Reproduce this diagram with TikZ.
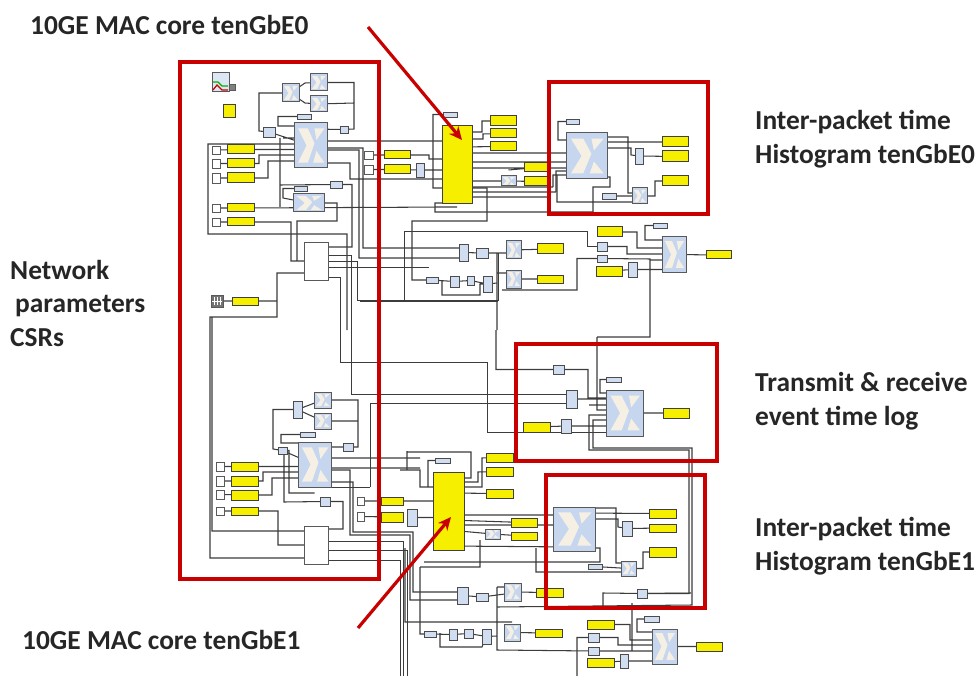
\documentclass[tikz,border=0pt]{standalone}
\usepackage{fontspec}
\setmainfont{Carlito}
\usetikzlibrary{arrows.meta}
\pgfdeclarelayer{wires}
\pgfsetlayers{wires,main}
\definecolor{frame}{HTML}{C80000}
\definecolor{block}{HTML}{C6D6EE}
\definecolor{logo}{HTML}{F6F0E4}
\definecolor{lamp}{HTML}{F6F000}
\definecolor{cable}{HTML}{3C3C3C}
\tikzset{
  cablew/.style={draw=cable,line width=1.05pt},
  cablet/.style={draw=cable,line width=0.7pt},
  boxed/.style={inner sep=0pt,outer sep=0pt,rectangle},
  ybox/.style={boxed,draw=black!75,fill=lamp,line width=1pt},
  bbox/.style={boxed,draw=black!65,fill=block,line width=1pt},
  wbox/.style={boxed,draw=black!65,fill=white,line width=0.9pt},
  sbox/.style={boxed,draw=black!70,fill=block!80,line width=0.9pt},
  redframe/.style={draw=frame,line width=4.8pt},
  redarrow/.style={draw=frame,line width=3.2pt,-{Stealth[length=13pt,width=12pt]}},
  caption/.style={font=\fontsize{27.4}{33.5}\selectfont\bfseries,text=black!85,anchor=west,align=left,inner sep=0pt}
}
\begin{document}
\begin{tikzpicture}[x=1pt,y=-1pt]
\useasboundingbox (0,0) rectangle (979,676);
% yellow blocks
\foreach \n/\xa/\ya/\xb/\yb in {ya0/227/145/254/154,yb0/227/159/254/168,yc0/227/173/254/183,yd0/227/204/254/212,ye0/227/218/254/226,
  ya1/231/462/258/471,yb1/231/476/258/486,yc1/231/490/258/500,ye1/231/507/258/515,
  yf0/232/297/258/305,ym0/442/126/472/204,ym1/433/472/464/550,
  yg0/384/151/410/159,yh0/384/165/410/174,yg1/381/497/403/505,yh1/381/512/403/522,
  yo0/490/116/516/126,yp0/490/129/516/138,yq0/490/142/516/151,yo1/486/453/513/462,yp1/486/467/513/476,yq1/486/489/513/498,
  yr0/524/163/550/172,ys0/524/177/550/186,yr1/511/518/537/527,ys1/511/532/537/540,
  yt0/662/137/688/147,yu0/662/151/688/162,yv0/662/176/688/186,yt1/649/509/676/518,yu1/649/524/676/532,yv1/649/547/676/557,
  yw0/537/244/563/254,yx0/537/275/563/283,yw1/536/588/563/597,yx1/535/629/562/637,
  yy0/597/227/622/237,yz0/596/266/622/276,yy1/587/620/614/629,yz1/587/658/614/667,
  yl0/706/251/731/259,yl1/696/642/722/651,yev/663/408/689/418,yin/523/422/550/432,ysm/223/105/235/118}
  {\node[ybox,minimum width={(\xb-\xa)*1pt},minimum height={(\yb-\ya)*1pt}] (\n) at ({(\xa+\xb)/2},{(\ya+\yb)/2}) {};}
% white blocks
\foreach \n/\xa/\ya/\xb/\yb in {wa0/212/146/220/154,wb0/212/159/220/168,wc0/212/173/220/183,wd0/212/204/220/212,we0/212/218/220/226,
  wa1/216/462/224/471,wb1/216/476/224/486,wc1/216/490/224/499,we1/216/507/224/515,
  wg0/364/151/373/159,wh0/364/165/373/174,wg1/357/497/364/505,wh1/357/512/364/521,
  bus0/304/242/328/280,bus1/304/526/328/564}
  {\node[wbox,minimum width={(\xb-\xa)*1pt},minimum height={(\yb-\ya)*1pt}] (\n) at ({(\xa+\xb)/2},{(\ya+\yb)/2}) {};}
% small blue blocks and strips
\foreach \n/\xa/\ya/\xb/\yb in {inv0/263/127/275/137,reg0/340/126/348/133,dly0/330/181/342/188,mux0/416/163/424/177,sl0/635/148/643/164,
  m0/459/244/468/261,r0/476/248/488/258,c0/426/277/438/283,d0/450/276/459/287,e0/467/276/474/285,f0/483/276/492/292,
  g0/597/242/607/251,h0/597/255/607/262,k0/628/262/637/277,
  n1/293/401/302/418,inv1/278/447/287/454,reg1/343/443/353/451,dly1/320/497/330/506,mux1/407/509/417/526,sl1/622/521/632/536,
  m1/457/587/468/604,r1/476/593/488/601,c1/424/631/436/637,d1/449/629/457/640,e1/464/629/473/638,f1/482/629/491/644,
  g1/588/633/599/642,h1/588/647/599/655,k1/620/654/628/668,
  pa/553/365/564/374,pb/566/390/577/408,pc/561/419/571/433,pd/637/589/647/598,
  con0/297/114/311/119,con1/294/186/307/191,con2/300/432/315/437,con3/443/112/457/117,con4/566/119/579/124,
  con5/602/193/616/199,con6/653/223/667/228,con7/606/377/621/382,con8/435/458/450/463,con9/588/564/602/569,con10/644/616/659/622}
  {\node[sbox,minimum width={(\xb-\xa)*1pt},minimum height={(\yb-\ya)*1pt}] (\n) at ({(\xa+\xb)/2},{(\ya+\yb)/2}) {};}
% blue blocks with the logo
\foreach \n/\xa/\ya/\xb/\yb in {xa0/282/84/299/102,xb0/310/74/327/91,xc0/310/96/327/112,cnt0/294/123/327/168,ram0/293/194/324/212,
  xa1/314/392/331/408,xb1/314/413/331/429,cnt1/298/442/331/487,hist0/566/133/607/179,addr0/632/188/647/204,
  tx0/506/241/521/259,rx0/506/270/521/288,log0/662/237/686/272,mem0/501/176/516/186,hist1/553/507/595/551,
  addr1/621/561/636/576,tx1/504/583/521/601,rx1/504/624/520/641,log1/652/629/677/664,mem1/485/529/500/539,evt/606/390/643/436}
  {\node[bbox,minimum width={(\xb-\xa)*1pt},minimum height={(\yb-\ya)*1pt}] (\n) at ({(\xa+\xb)/2},{(\ya+\yb)/2}) {};
   \pgfmathsetmacro\bw{\xb-\xa}\pgfmathsetmacro\bh{\yb-\ya}
   \begin{scope}[shift={(\xa,\ya)},x=\bw pt,y=-\bh pt]
   \fill[logo] (0.12,0.12) -- (0.42,0.12) -- (0.62,0.45) -- (0.42,0.88) -- (0.12,0.88) -- (0.38,0.5) -- cycle
     (0.62,0.12) -- (0.92,0.12) -- (0.68,0.38) -- cycle (0.68,0.62) -- (0.92,0.88) -- (0.58,0.88) -- cycle;
   \end{scope}}
% scope and clock icons
\node[bbox,fill=block!60,minimum width=17pt,minimum height=19pt] (scp) at (220.5,82.5) {};
\draw[green!70!black,line width=1.2pt] (213,82) -- (218,82) -- (222,86) -- (228,86);
\draw[red!80!black,line width=1.2pt] (213,90) -- (217,85) -- (222,90) -- (228,90);
\node[wbox,fill=black!50,minimum size=6pt] (scq) at (232,87) {};
\node[wbox,fill=black!55,minimum size=12pt] (clk) at (217,301) {};
\draw[white,line width=0.9pt] (214,297) -- (214,305) (217,297) -- (217,305) (220,297) -- (220,305) (212,301) -- (222,301);
\begin{pgfonlayer}{wires}
% top left group
\draw[cablew] (xa0) -| (259,131) -- (inv0) (xa0) -- (305,83) -- (xb0) (xa0) -- (305,103) -- (xc0)
  (xb0) -| (354,129) -- (reg0) (xc0) -- (354,103) (con0) -| (278,126) -- (cnt0 |- 0,126)
  (inv0) -- (cnt0) (cnt0 |- 0,129) -- (reg0) (283,138) -- (cnt0 |- 0,138) (280,138) -- (280,207);
\draw[cablew] (cnt0 |- 0,144) -- (208,144) -- (208,234) -- (347,234) -- (347,330)
  (ya0) -- (cnt0 |- ya0) (yb0) -- (259,163.5) -- (259,155) -- (cnt0 |- 0,155)
  (yc0) -| (268,161) -- (cnt0 |- 0,161) (wa0) -- (ya0) (wb0) -- (yb0) (wc0) -- (yc0) (wd0) -- (yd0) (we0) -- (ye0);
\draw[cablew] (cnt0 |- 0,141) -- (ym0 |- 0,141) (cnt0 |- 0,148) -- (363,148) |- (390,248) -- (m0 |- 0,248)
  (cnt0 |- 0,150) -- (359,150) |- (m0 |- 0,258) (cnt0 |- 0,163) -| (350,179) -- (ym0 |- 0,179)
  (yd0) -- (ym0 |- 0,207) (ym0 |- 0,207) -- (435,207);
\draw[cablew] (ram0) -| (337,221) -- (297,221) |- (bus0) (con1) -| (283,198) -- (ram0)
  (280,185) -- (dly0) (dly0) -| (352,247) -- (bus0 |- 0,247) (ye0) -| (291,261) -- (bus0)
  (bus0 |- 0,273) -| (277,317) -- (210,317) -- (210,558) -- (bus1 |- 0,558) (yf0) -- (277,301) (clk) -- (yf0)
  (212,317) -- (212,531) -- (bus1 |- 0,531);
\draw[cablet] (bus0 |- 0,261) -| (357,300) -- (498,300) -- (498,253) (bus0 |- 0,267) -- (429,267)
  (bus0 |- 0,277) -| (340,362) -- (487,362) -- (487,432) -- (evt |- 0,432)
  (bus0 |- 0,255) -| (351,394) -- (pb |- 0,394) (370,487) -- (370,403) -- (pb |- 0,403) (cnt1 |- 0,487) -- (370,487);
% second group on the left
\draw[cablew] (n1) -| (273,449) -- (inv1) (n1) -- (xa1) (n1) -- (xb1)
  (xa1) -| (358,447) -- (reg1) (xb1) -- (358,421) (con2) -| (281,443) -- (cnt1 |- 0,443)
  (inv1) -- (cnt1) (reg1) -- (cnt1 |- reg1) (cnt1 |- 0,458) -- (420,458) (cnt1 |- 0,468) -- (420,468);
\draw[cablew] (ya1) -- (cnt1 |- ya1) (yb1) -| (263,472) -- (cnt1 |- 0,472) (yc1) -| (272,478) -- (cnt1 |- 0,478)
  (wa1) -- (ya1) (wb1) -- (yb1) (wc1) -- (yc1) (we1) -- (ye1) (ye1) -| (278,545) -- (bus1)
  (inv1) -| (284,502) -- (dly1) (dly1) -| (343,529) -- (bus1 |- 0,529) (inv1) -| (289,493) -- (cnt1 |- 0,493)
  (cnt1 |- 0,470) -| (350,535) -- (410,535) -- (410,600) -- (m1 |- 0,600)
  (cnt1 |- 0,482) -| (353,532) -- (413,532) -- (413,592) -- (m1 |- 0,592)
  (wg1) -- (yg1) (yg1) -- (ym1 |- yg1) (wh1) -- (yh1) (mux1) -- (ym1 |- mux1);
\draw[cablet] (bus1 |- 0,541) -| (403,676) (bus1 |- 0,550) -| (407,676) (bus1 |- 0,560) -| (400,676);
% first mac core
\draw[cablew] (yg0) -| (429,159) -- (ym0 |- 0,159) (wg0) -- (yg0) (wh0) -- (yh0) (yh0) -- (mux0) (mux0) -- (ym0 |- mux0)
  (con3) -| (433,188) -- (ym0 |- 0,188) (ym0 |- 0,203) -| (435,212) -- (593,212) (ym0 |- 0,132) -| (482,121) -- (yo0)
  (ym0 |- 0,139) -| (483,134) -- (yp0) (ym0 |- 0,147) -- (yq0);
\draw[cablew] (ym0 |- 0,153) -- (hist0 |- 0,153) (ym0 |- 0,162) -- (hist0 |- 0,162) (ym0 |- 0,168) -- (hist0 |- 0,168)
  (ym0 |- 0,187) -- (553,187) (ym0 |- 0,192) -- (556,192) (ym0 |- 0,197) -- (550,197)
  (ym0 |- 0,181) -- (mem0 |- 0,181) (mem0) -- (ys0) (mem0 |- 0,170) -- (yr0) (553,187) |- (hist0 |- 0,175)
  (556,192) |- (hist0 |- 0,171);
\draw[cablew] (con4) -| (558,140) -- (hist0 |- 0,140) (hist0 |- 0,137) -| (628,193) -- (addr0 |- 0,193)
  (hist0 |- 0,142) -- (yt0) (hist0 |- 0,148) -| (631,155) -- (sl0) (sl0) -- (yu0) (addr0) -| (655,181) -- (yv0)
  (con5) -- (addr0) (557,175) |- (addr0 |- 0,202) (hist0 |- 0,177) -| (610,187) -- (593,187) -- (593,212);
% counters under the first core
\draw[cablew] (ym0 |- 0,188) -- (487,188) -- (487,221) -- (412,221) -- (412,280) -- (c0) (c0) -- (d0) (d0) -- (e0) (e0) -- (f0)
  (442,280) -- (442,295) -- (480,295) |- (f0) (f0) -- (497,283) (m0) -- (r0) (r0) -- (tx0 |- r0)
  (497,253) -- (497,330) (497,273) -- (rx0 |- 0,273) (tx0) -- (yw0) (rx0) -- (yx0);
\draw[cablet] (404,231) -- (587,231) |- (g0) (404,231) -- (404,300) (360,301) -- (498,301);
\draw[cablew] (502,290) -- (577,290) |- (h0) (h0) -- (650,259) -- (650,330) (650,260) -- (log0 |- 0,260)
  (yy0) -| (637,248) -- (log0 |- 0,248) (g0) -| (627,254) -- (log0 |- 0,254) (yz0) -- (k0) (k0) -- (log0 |- k0)
  (con6) -| (645,240) -- (log0 |- 0,240) (log0) -- (yl0);
% event time log
\draw[cablew] (496,330) |- (pa) (pa) -| (588,398) -- (evt |- 0,398) (pb) -- (evt |- pb) (589,405) -- (evt |- 0,405)
  (597,337) -- (597,410) -- (evt |- 0,410) (597,337) -- (650,337) -- (650,330) (con7) -| (600,393) -- (evt |- 0,393)
  (pc) -- (evt |- pc) (evt |- 0,415) -| (589,450) -- (689,450) |- (pd)
  (evt |- 0,420) -| (593,448) -- (692,448) -- (692,605) -- (497,607) (evt |- yev) -- (yev) (pd) -- (603,593) -- (603,607)
  (yin) -- (pc);
% second mac core
\draw[cablew] (407,451) -- (407,470) (407,452) -- (471,452) |- (ym1 |- 0,478) (con8) -| (428,487) -- (ym1 |- 0,487)
  (400,470) -- (420,470) |- (ym1 |- 0,487) (ym1 |- 0,487) -| (482,458) -- (yo1) (ym1 |- 0,482) -| (478,472) -- (yp1) (ym1 |- 0,493) -- (yq1)
  (ym1 |- 0,515) -- (hist1 |- 0,515) (ym1 |- 0,520) -- (yr1) (ym1 |- 0,525) -- (hist1 |- 0,525) (ym1 |- 0,530) -- (mem1)
  (mem1) -- (ys1) (ym1 |- 0,546) -- (hist1 |- 0,547);
\draw[cablew] (hist1 |- 0,508) -| (616,563) -- (addr1 |- 0,563) (hist1 |- 0,513) -- (yt1) (hist1 |- 0,519) -| (618,527) -- (sl1) (sl1) -- (yu1)
  (addr1) -| (643,552) -- (yv1) (con9) -- (addr1) (hist1 |- 0,548) -| (600,562) -- (424,562)
  (536,548) -- (536,572) -- (addr1 |- 0,572) (420,567) -- (480,567) -- (480,540) (420,567) |- (c1);
% counters under the second core
\draw[cablew] (m1) -- (r1) (r1) -- (tx1 |- 0,593) (tx1) -- (yw1) (rx1) -- (yx1) (c1) -- (d1) (d1) -- (e1) (e1) -- (f1)
  (440,633) -- (440,647) -- (482,647) -- (f1) (f1) -- (497,636) (497,587) -- (497,650) -- (h1) (497,587) -- (tx1 |- 0,587)
  (405,548) -- (405,622) -- (rx1 |- 0,622);
\draw[cablew] (g1) -| (577,676) (g1) -| (618,645) -- (log1 |- 0,645) (yy1) -| (630,640) -- (log1 |- 0,640)
  (h1) -- (log1 |- h1) (yz1) -- (k1) (k1) -- (log1 |- k1) (con10) -| (637,632) -- (log1 |- 0,632) (log1) -- (yl1) (632,603) -- (632,650)
  (pd) -- (691,593);
\end{pgfonlayer}
% frames
\draw[redframe] (180,62) rectangle (379,579);
\draw[redframe] (549,82) rectangle (708,214);
\draw[redframe] (516,344) rectangle (717,461);
\draw[redframe] (546,475) rectangle (705,608);
% arrows
\coordinate (arr0a) at (368,27); \coordinate (arr0b) at (462,140);
\coordinate (arr1a) at (358,628); \coordinate (arr1b) at (451,517);
\draw[redarrow] (arr0a) -- (arr0b);
\draw[redarrow] (arr1a) -- (arr1b);
% captions
\node[caption] (mac0) at (30,25) {10GE MAC core tenGbE0};
\node[caption] (mac1) at (22,640) {10GE MAC core tenGbE1};
\node[caption] (net) at (10,303) {Network\\\hspace{5pt}parameters\\CSRs};
\node[caption] (hg0) at (755,139) {Inter-packet time\\Histogram tenGbE0};
\node[caption] (ev) at (755,401) {Transmit \& receive\\event time log};
\node[caption] (hg1) at (755,546) {Inter-packet time\\Histogram tenGbE1};
\end{tikzpicture}
\end{document}
